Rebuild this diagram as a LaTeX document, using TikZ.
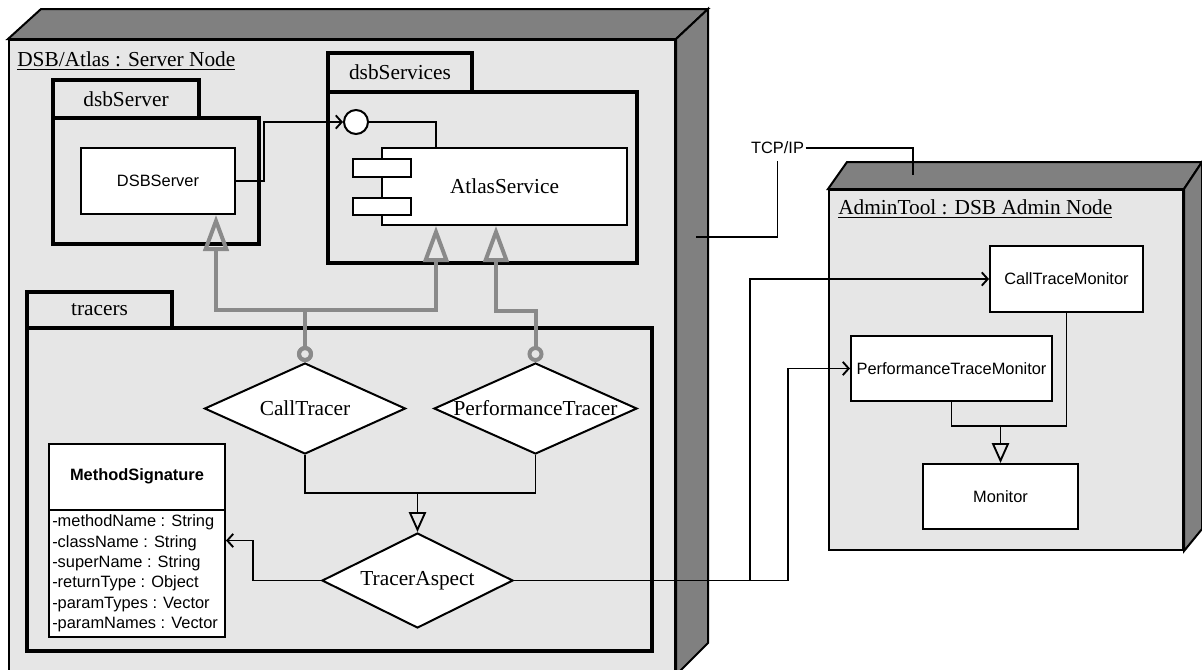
\documentclass[tikz,border=0pt]{standalone}
\usepackage{fontspec}
\setmainfont{Liberation Serif}
\newfontfamily\arialfont{Liberation Sans}
\usetikzlibrary{shapes.geometric,arrows.meta,calc}
\newdimen\pxu \pxu=0.75pt
\definecolor{facelight}{RGB}{230,230,230}
\definecolor{facedark}{RGB}{128,128,128}
\definecolor{realgray}{RGB}{138,138,138}
\newcommand{\titlefont}{\fontsize{16}{19}\selectfont}
\newcommand{\sansfont}{\arialfont\fontsize{12.3}{14}\selectfont}
\begin{document}
\begin{tikzpicture}[x=0.75pt,y=-0.75pt,
  nodeface/.style={draw,line width=1.5pt,fill=facelight,rectangle,inner sep=0pt},
  darkface/.style={draw,line width=1.5pt,fill=facedark,line join=miter},
  pkg/.style={draw,line width=2.5pt,fill=facelight,rectangle,inner sep=0pt,font=\titlefont},
  cls/.style={draw,line width=1.5pt,fill=white,rectangle,inner sep=0pt,font=\sansfont},
  comp/.style={draw,line width=1.5pt,fill=white,rectangle,inner sep=0pt,font=\titlefont},
  dia/.style={draw,line width=1.5pt,fill=white,diamond,inner sep=0pt},
  ttext/.style={inner sep=0pt,font=\titlefont},
  stext/.style={inner sep=0pt,font=\sansfont,text height=1.6ex,text depth=.3ex},
  conn/.style={line width=1.4pt},
  assoc/.style={conn,-{Straight Barb[length=4.5pt,width=10pt,line width=1.4pt]}},
  gen/.style={conn,-{Triangle[open,length=15pt,width=13pt,line width=1.4pt]}},
  real/.style={draw=realgray,line width=3pt},
  lollitip/.style={{Circle[open,length=12pt,line width=3pt]}-{Triangle[open,length=27pt,width=19pt,line width=3pt]}}
]
\useasboundingbox (0,0) rectangle (1202,669);
\clip (0,0) rectangle (1202,669);

% ---------- Server node ----------
\node[nodeface,minimum width=666\pxu,minimum height=634\pxu] (srv) at (342,357) {};
\draw[darkface] (srv.north west) -- ++(33,-30) -- ($(srv.north east)+(32,-30)$) -- (srv.north east) -- cycle;
\draw[darkface] (srv.north east) -- ++(32,-30) -- ($(srv.south east)+(32,-32)$) -- (srv.south east) -- cycle;
\node[ttext,anchor=west] (srvlbl) at (17,61) {\underline{DSB/Atlas : Server Node}};

% ---------- Admin node ----------
\node[nodeface,minimum width=354\pxu,minimum height=360\pxu] (adm) at (1006,370) {};
\draw[darkface] (adm.north west) -- ++(19,-27) -- ($(adm.north east)+(18,-27)$) -- (adm.north east) -- cycle;
\draw[darkface] (adm.north east) -- ++(18,-27) -- ($(adm.south east)+(18,-22)$) -- (adm.south east) -- cycle;
\node[ttext,anchor=west] (admlbl) at (838,209) {\underline{AdminTool : DSB Admin Node}};

% ---------- Packages ----------
\node[pkg,minimum width=206\pxu,minimum height=126\pxu] (dsbsrvpkg) at (156,181) {};
\node[pkg,minimum width=146\pxu,minimum height=38\pxu] (dsbsrvtab) at (126,99) {dsbServer};
\node[pkg,minimum width=309\pxu,minimum height=171\pxu] (dsbsvcpkg) at (482.5,177.5) {};
\node[pkg,minimum width=144\pxu,minimum height=39\pxu] (dsbsvctab) at (400,72.5) {dsbServices};
\node[pkg,minimum width=625\pxu,minimum height=323\pxu] (tracpkg) at (339.5,489.5) {};
\node[pkg,minimum width=145\pxu,minimum height=36\pxu] (tractab) at (99.5,310) {tracers};

% ---------- dsbServer content ----------
\node[cls,minimum width=154\pxu,minimum height=66\pxu] (ds) at (158,181) {DSBServer};

% ---------- dsbServices content ----------
\node[comp,minimum width=245\pxu,minimum height=77\pxu] (as) at (504.5,186.5) {AtlasService};
\node[cls,minimum width=58\pxu,minimum height=18\pxu] (as1) at (382,168) {};
\node[cls,minimum width=58\pxu,minimum height=17\pxu] (as2) at (382,206.5) {};
\node[draw,circle,line width=1.5pt,fill=white,minimum size=24\pxu,inner sep=0pt] (iface) at (356,122) {};

% ---------- tracers content ----------
\node[dia,minimum width=201\pxu,minimum height=91\pxu] (ct) at (305,408.5) {};
\node[ttext] (cttxt) at (ct) {CallTracer};
\node[dia,minimum width=203\pxu,minimum height=91\pxu] (pt) at (535.5,408.5) {};
\node[ttext] (pttxt) at (pt) {PerformanceTracer};
\node[dia,minimum width=191\pxu,minimum height=95\pxu] (ta) at (417.5,580.5) {};
\node[ttext] (tatxt) at (ta) {TracerAspect};

\node[cls,minimum width=176\pxu,minimum height=193\pxu] (ms) at (137,540.5) {};
\draw[line width=1.4pt] (ms.west |- 0,510) -- (ms.east |- 0,510);
\node[stext,font=\sansfont\bfseries] (msname) at (137,477) {MethodSignature};
\node[stext,anchor=west] (ma1) at (52,523) {-methodName : String};
\node[stext,anchor=west] (ma2) at (52,543.3) {-className : String};
\node[stext,anchor=west] (ma3) at (52,563.6) {-superName : String};
\node[stext,anchor=west] (ma4) at (52,583.9) {-returnType : Object};
\node[stext,anchor=west] (ma5) at (52,604.2) {-paramTypes : Vector};
\node[stext,anchor=west] (ma6) at (52,624.5) {-paramNames : Vector};

% ---------- Admin content ----------
\node[cls,minimum width=153\pxu,minimum height=66\pxu] (ctm) at (1066.5,279) {CallTraceMonitor};
\node[cls,minimum width=201\pxu,minimum height=65\pxu] (ptm) at (951.5,368.5) {PerformanceTraceMonitor};
\node[cls,minimum width=155\pxu,minimum height=65\pxu] (mon) at (1000.5,496.5) {Monitor};

% ---------- Connectors ----------
\draw[assoc] (ds.east) -- ++(28,0) |- (iface.west);
\draw[conn] (iface.east) -| ($(as.north west)+(55,0)$);

\draw[real,lollitip] (ct.north) -- ++(0,-52) -| ($(ds.south east)+(-20,0)$);
\draw[real,lollitip] (ct.north) -- ++(0,-52) -| ($(as.south west)+(55,0)$);
\draw[real,lollitip] (pt.north) -- ++(0,-51) -| ($(as.south west)+(115,0)$);

\coordinate (tj) at (ta.north |- 0,493);
\draw[conn] (ct.south) |- (tj) -| (pt.south);
\draw[gen] (tj) -- (ta.north);

\draw[assoc] (ta.west) -- ++(-68,0) |- (ms.east);

\draw[assoc] (ta.east) -| ($(ptm.west)+(-62,0)$) -- (ptm.west);
\draw[assoc] (ta.east) -| ($(ctm.west)+(-239,0)$) -- (ctm.west);

\coordinate (mj) at (mon.north |- 0,426);
\draw[conn] (ptm.south) |- (mj) -| (ctm.south);
\draw[gen] (mj) -- (mon.north);

% ---------- TCP/IP ----------
\node[inner xsep=1pt,inner ysep=5pt,font=\sansfont] (tcp) at (777.5,148) {TCP/IP};
\coordinate (srvport) at (696,237);
\coordinate (admport) at (913,175);
\draw[conn] (srvport) -| (tcp.south);
\draw[conn] (tcp.east) -| (admport);
\end{tikzpicture}
\end{document}
